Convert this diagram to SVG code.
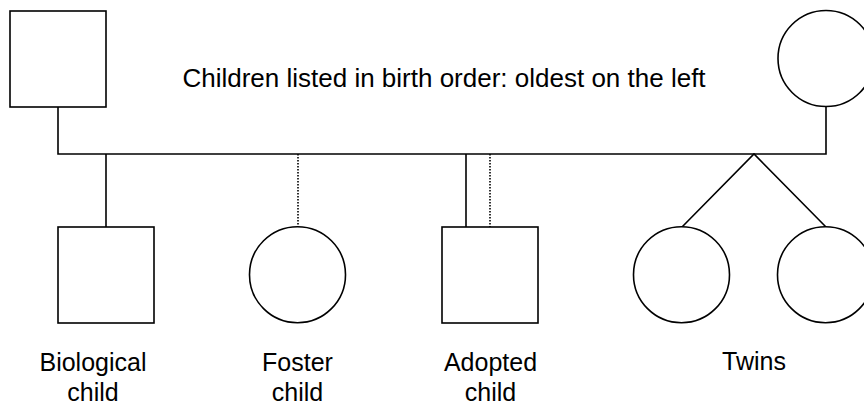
<svg xmlns="http://www.w3.org/2000/svg" width="864" height="405" viewBox="0 0 864 405">
<style>
.shape{fill:#fff;stroke:#000;stroke-width:1.6}
.line{fill:none;stroke:#000;stroke-width:1.6}
.dot{fill:none;stroke:#000;stroke-width:1.6;stroke-dasharray:1.5 1.5}
text{font-family:"Liberation Sans",Arial,sans-serif;font-size:25px;fill:#000;text-anchor:middle}
.title{font-size:26px}
</style>
<rect width="864" height="405" fill="#fff"/>
<g id="connectors">
<path class="line" d="M58,107 V154 H826 V106.5"/>
<path class="line" d="M106,154 V227"/>
<path class="dot" d="M298,154 V226.5"/>
<path class="line" d="M466,154 V227"/>
<path class="dot" d="M490,154 V227"/>
<path class="line" d="M682,227 L754,154 L826,227"/>
</g>
<g id="father"><rect class="shape" x="10" y="11" width="96" height="96"/></g>
<g id="mother"><circle class="shape" cx="826" cy="58.5" r="48"/></g>
<g id="title"><text class="title" x="444" y="87">Children listed in birth order: oldest on the left</text></g>
<g id="biological"><rect class="shape" x="58" y="227" width="96" height="96"/>
<text x="93" y="371">Biological</text><text x="93" y="401">child</text></g>
<g id="foster"><circle class="shape" cx="297.5" cy="274.7" r="48"/>
<text x="297.5" y="371">Foster</text><text x="297.5" y="401">child</text></g>
<g id="adopted"><rect class="shape" x="442" y="227" width="96" height="96"/>
<text x="490.5" y="371">Adopted</text><text x="490.5" y="401">child</text></g>
<g id="twin1"><circle class="shape" cx="681.5" cy="274.7" r="48"/></g>
<g id="twin2"><circle class="shape" cx="825.5" cy="274.7" r="48"/></g>
<g id="twins-label"><text x="754" y="370">Twins</text></g>
</svg>
